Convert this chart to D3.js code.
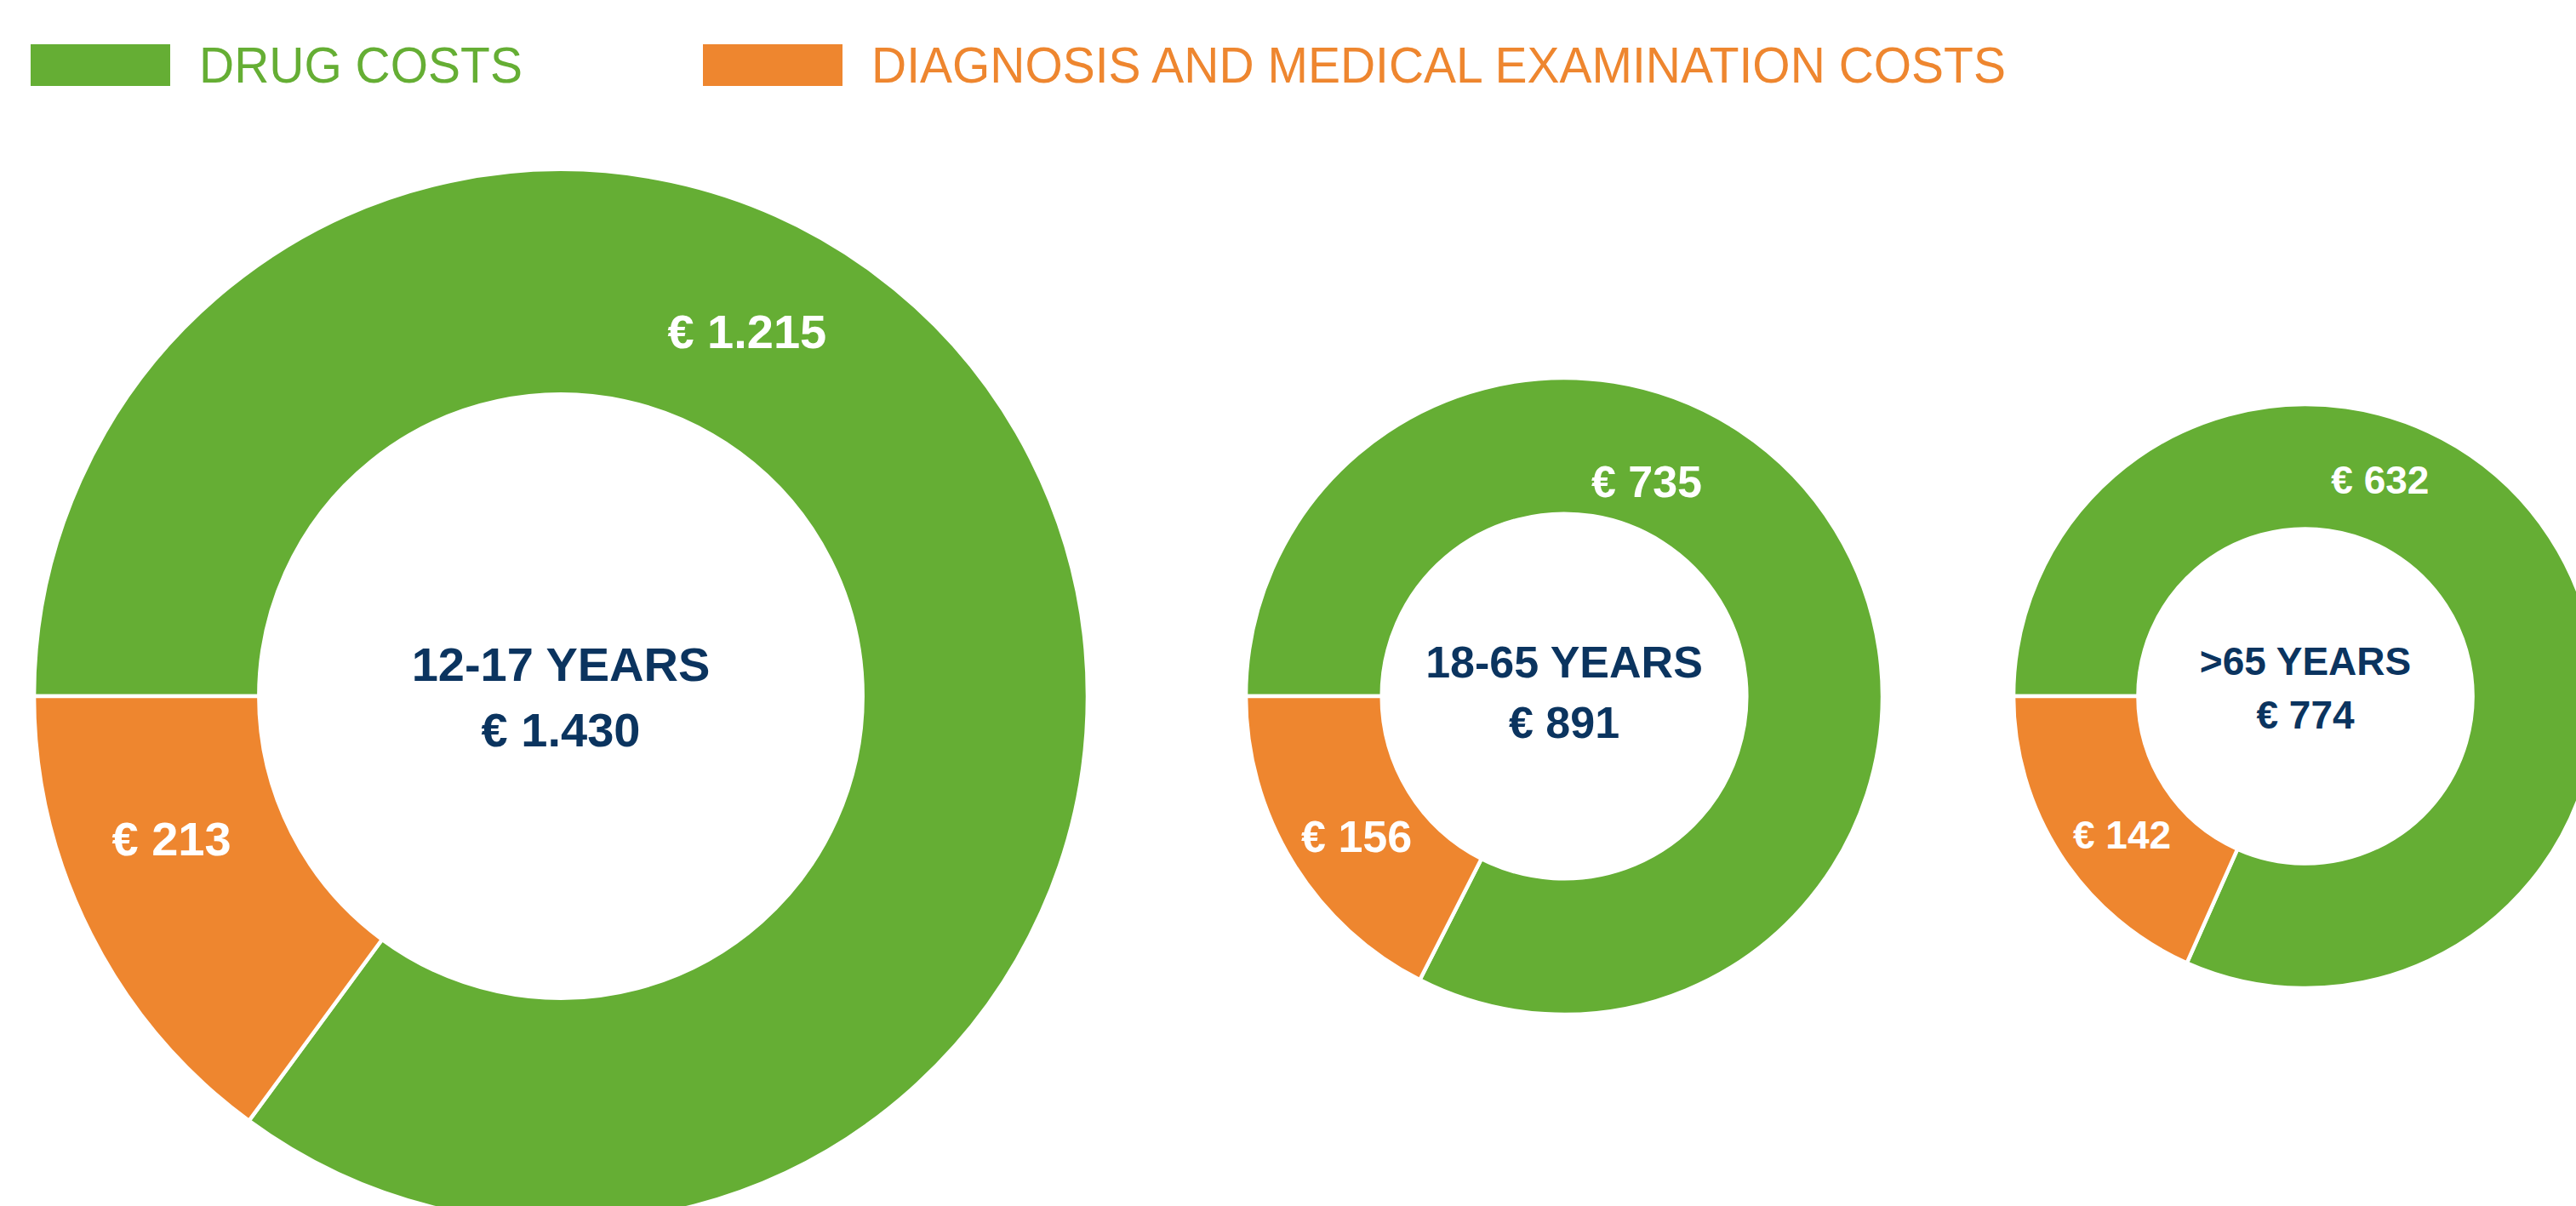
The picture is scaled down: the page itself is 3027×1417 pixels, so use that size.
<!DOCTYPE html>
<html>
<head>
<meta charset="utf-8">
<script src="https://cdn.jsdelivr.net/npm/d3@7"></script>
<style>
  html, body { margin: 0; padding: 0; background: #fff; overflow: hidden; }
  svg { display: block; font-family: "Liberation Sans", Arial, sans-serif; }
</style>
</head>
<body>
<div id="chart"></div>
<script>
// data
const seriesNames = ["DRUG COSTS", "DIAGNOSIS AND MEDICAL EXAMINATION COSTS"];
const ageGroups = ["12-17 YEARS", "18-65 YEARS", ">65 YEARS"];
const totals = [1430, 891, 774];
const drugCosts = [1215, 735, 632];
const diagnosisCosts = [213, 156, 142];

const width = 3027, height = 1417;
const colors = ["#65ae34", "#ee862f"];
const navy = "#0b345f";

// layout of the three rings
const centersX = [659, 1838, 2709];
const centerY = 818;
const radii = [619, 374, 343];
const fontSizes = [56, 52, 46];
const titleOffsets = [-18, -22, -25];
// value label placement per ring: [angle (deg, clockwise from 12), share of mid radius]
const labelPlaces = [
	[[27, 0.99], [250, 1.0]],
	[[21, 0.92], [236, 1.0]],
	[[19, 1.0], [233, 1.0]]
];

const euro = d3.formatLocale({
	decimal: ",",
	thousands: ".",
	grouping: [3],
	currency: ["€ ", ""]
}).format("$,");

const svg = d3.select("#chart")
	.append("svg")
	.attr("width", width)
	.attr("height", height);

// legend
const legendX = [36, 826];
const legend = svg.selectAll("g.legend")
	.data(seriesNames)
	.enter().append("g")
	.attr("class", "legend")
	.attr("transform", (d, i) => "translate(" + legendX[i] + "," + 52 + ")");

legend.append("rect")
	.attr("width", 164)
	.attr("height", 49)
	.attr("fill", (d, i) => colors[i]);

legend.append("text")
	.attr("transform", "translate(198,45) scale(0.95,1)")
	.attr("font-size", 60)
	.attr("fill", (d, i) => colors[i])
	.text(d => d);

// rings
const pie = d3.pie()
	.sort(null)
	.startAngle(-Math.PI / 2)
	.endAngle(Math.PI * 1.5);

ageGroups.forEach((group, i) => {
	const R = radii[i];
	const r = R * 0.573;
	const fs = fontSizes[i];
	const arcs = pie([drugCosts[i], diagnosisCosts[i]]);
	const arc = d3.arc().innerRadius(r).outerRadius(R);

	const g = svg.append("g")
		.attr("transform", "translate(" + centersX[i] + "," + centerY + ")");

	g.selectAll("path")
		.data(arcs)
		.enter().append("path")
		.attr("d", arc)
		.attr("fill", (d, j) => colors[j])
		.attr("stroke", "#fff")
		.attr("stroke-width", 4.5);

	const mid = (R + r) / 2;
	const place = labelPlaces[i];
	g.selectAll("text.value")
		.data(arcs)
		.enter().append("text")
		.attr("class", "value")
		.attr("x", (d, j) => mid * place[j][1] * Math.sin(place[j][0] * Math.PI / 180))
		.attr("y", (d, j) => -mid * place[j][1] * Math.cos(place[j][0] * Math.PI / 180))
		.attr("dy", "0.36em")
		.attr("text-anchor", "middle")
		.attr("font-size", fs)
		.attr("font-weight", "bold")
		.attr("fill", "#fff")
		.text(d => euro(d.data));

	const label = g.append("text")
		.attr("text-anchor", "middle")
		.attr("font-size", fs)
		.attr("font-weight", "bold")
		.attr("fill", navy);
	label.append("tspan")
		.attr("x", 0)
		.attr("y", titleOffsets[i])
		.text(group);
	label.append("tspan")
		.attr("x", 0)
		.attr("y", titleOffsets[i] + 1.37 * fs)
		.text(euro(totals[i]));
});
</script>
</body>
</html>
